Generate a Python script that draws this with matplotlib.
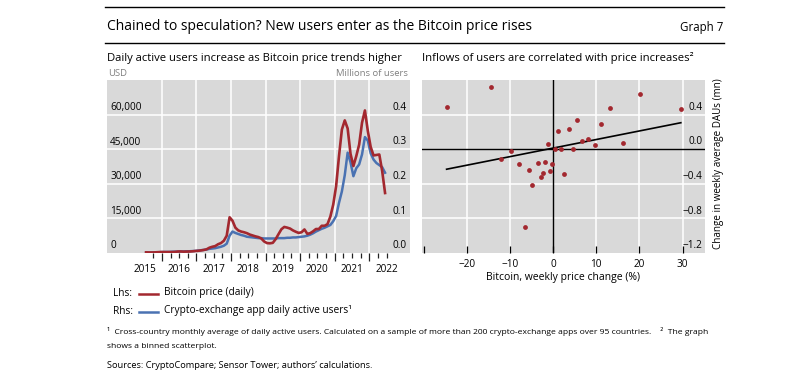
import numpy as np
import pandas as pd
import matplotlib
matplotlib.use('Agg')
import matplotlib.pyplot as plt
from matplotlib.lines import Line2D

plt.rcParams['font.family'] = ['Open Sans', 'DejaVu Sans']

# monthly data, Jul 2015 - Jun 2022
months = pd.date_range('2015-07-01', '2022-06-01', freq='MS')
btc_price = [
    280, 250, 235, 270, 350, 420,
    410, 400, 415, 430, 460, 640, 660, 580, 605, 640, 720, 850,
    950, 1100, 1300, 1600, 2300, 2700, 3000, 3800, 4300, 5300, 7500, 15500,
    14000, 11000, 9800, 9300, 9000, 8600, 8000, 7600, 7200, 6900, 6300, 5000,
    4300, 4200, 4400, 6000, 8200, 10300, 11300, 11000, 10600, 9800, 9200, 8700,
    9000, 10200, 8300, 8600, 9400, 10400, 10400, 11800, 11800, 12500, 15800, 21000,
    29000, 42000, 53500, 57500, 54000, 43000, 37700, 42000, 47000, 56500, 61800, 53000,
    46000, 42300, 42500, 42700, 35500, 26000,
]
daily_users = [
    0.001, 0.001, 0.0015, 0.002, 0.002, 0.0025,
    0.003, 0.003, 0.003, 0.0035, 0.004, 0.004, 0.0045, 0.0045, 0.005, 0.005, 0.0055, 0.006,
    0.007, 0.008, 0.009, 0.010, 0.012, 0.013, 0.014, 0.016, 0.018, 0.021, 0.027, 0.050,
    0.062, 0.058, 0.055, 0.052, 0.050, 0.047, 0.046, 0.045, 0.044, 0.043, 0.043, 0.042,
    0.042, 0.042, 0.042, 0.042, 0.043, 0.043, 0.043, 0.044, 0.044, 0.045, 0.045, 0.046,
    0.047, 0.048, 0.050, 0.053, 0.057, 0.062, 0.066, 0.070, 0.073, 0.077, 0.081, 0.092,
    0.107, 0.145, 0.178, 0.225, 0.290, 0.262, 0.222, 0.245, 0.256, 0.285, 0.335, 0.325,
    0.288, 0.270, 0.260, 0.254, 0.248, 0.232,
]

# binned scatter: weekly price change (%) vs change in weekly average DAUs (mn)
price_change = [-24.7, -14.4, -9.7, -12.1, -7.9, -5.6, -3.5, -1.8, -2.3, -2.9,
                -4.8, -6.6, -1.15, -0.7, -0.2, 0.5, 1.15, 1.85, 2.5, 3.6,
                4.5, 5.5, 6.7, 8.1, 9.8, 11.2, 13.2, 16.2, 20.1, 29.6]
dau_change = [0.49, 0.72, -0.016, -0.117, -0.176, -0.246, -0.164, -0.152, -0.27, -0.32,
              -0.414, -0.905, 0.055, -0.25, -0.176, 0.0, 0.21, 0.0, -0.285, 0.234,
              0.0, 0.34, 0.09, 0.117, 0.05, 0.297, 0.472, 0.07, 0.64, 0.465]
fit_slope = 0.0099
fit_intercept = 0.013

left_ticks = [0, 15000, 30000, 45000, 60000]
right_ticks = [0.0, 0.1, 0.2, 0.3, 0.4]
scatter_yticks = [-1.2, -0.8, -0.4, 0.0, 0.4]
scatter_xticks = [-30, -20, -10, 0, 10, 20, 30]
years = list(range(2015, 2023))

red = '#a3282f'
blue = '#4a72b2'
bg = '#d9d9d9'
W, H = 798, 392


def box(x0, y0, x1, y1):
    return [x0 / W, 1 - y1 / H, (x1 - x0) / W, (y1 - y0) / H]


def ftext(x, y, s, **kw):
    fig.text(x / W, 1 - y / H, s, **kw)


fig = plt.figure(figsize=(7.98, 3.92), dpi=100)

t = months.year + (months.month - 0.5) / 12

# left panel: blue on the back axes, red on top
axb = fig.add_axes(box(107, 80, 410, 253))
axr = axb.twinx()
axb.set_facecolor(bg)
axb.plot(t, daily_users, color=blue, lw=1.8)
axb.set_ylim(0, 0.5)
axb.set_xlim(2014.41, 2023.18)
axr.plot(t, btc_price, color=red, lw=1.9)
axr.set_ylim(0, 75000)
axr.set_zorder(axb.get_zorder() + 1)
axr.patch.set_visible(False)
for a in (axb, axr):
    for s in a.spines.values():
        s.set_visible(False)
    a.set_yticks([])
for v in right_ticks[1:]:
    axb.axhline(v, color='white', lw=1.1, zorder=0.5)
for y in years[1:]:
    axb.axvline(y, color='white', lw=1.1, zorder=0.5)
axb.set_xticks(years[1:])
axb.set_xticks([y + q / 4 for y in years for q in (1, 2, 3) if 2015.7 < y + q / 4 < 2022.6], minor=True)
axb.set_xticklabels([])
axb.tick_params(axis='x', which='major', direction='out', length=6, width=0.9, color='#222222')
axb.tick_params(axis='x', which='minor', direction='out', length=3.5, width=0.9, color='#222222')
for y in years:
    axb.text(y + 0.5, -0.065, str(y), transform=axb.get_xaxis_transform(),
             ha='center', va='top', fontsize=7.2)
for v in left_ticks:
    axr.text(0.01, v + 700, f'{v:,}', transform=axr.get_yaxis_transform(),
             ha='left', va='bottom', fontsize=7.2)
for v in right_ticks:
    axb.text(0.99, v + 0.005, f'{v:.1f}', transform=axb.get_yaxis_transform(),
             ha='right', va='bottom', fontsize=7.2)

# right panel: scatter
ax2 = fig.add_axes(box(422, 80, 705, 253))
ax2.set_facecolor(bg)
for s in ax2.spines.values():
    s.set_visible(False)
ax2.set_xlim(-30.4, 35.2)
ax2.set_ylim(-1.2, 0.8)
for v in scatter_xticks[1:]:
    if v != 0:
        ax2.axvline(v, color='white', lw=1.1, zorder=0.5)
for v in scatter_yticks[1:]:
    if v != 0:
        ax2.axhline(v, color='white', lw=1.1, zorder=0.5)
ax2.axhline(0, color='black', lw=1.0, zorder=1)
ax2.axvline(0, color='black', lw=1.0, zorder=1)
ax2.scatter(price_change, dau_change, s=12, color=red, zorder=3, linewidths=0)
xs = np.array([min(price_change), max(price_change)])
ax2.plot(xs, fit_slope * xs + fit_intercept, color='black', lw=1.2, zorder=2)
ax2.set_xticks(scatter_xticks)
ax2.set_xticklabels(['' if v == -30 else f'{v}'.replace('-', '\u2212') for v in scatter_xticks], fontsize=7.2)
ax2.tick_params(axis='x', direction='in', length=5, width=0.9, color='black', pad=4)
ax2.set_yticks([])
for v in scatter_yticks:
    ax2.text(0.99, v + 0.02, f'{v:.1f}'.replace('-', '\u2212'), transform=ax2.get_yaxis_transform(),
             ha='right', va='bottom', fontsize=7.2)
ax2.set_xlabel('Bitcoin, weekly price change (%)', fontsize=7.5, labelpad=2)
ftext(718, 164, 'Change in weekly average DAUs (mn)', rotation=90, ha='center', va='center', fontsize=7.1)

# header
fig.add_artist(Line2D([105 / W, 724 / W], [1 - 7 / H] * 2, color='black', lw=1.0))
fig.add_artist(Line2D([105 / W, 724 / W], [1 - 43 / H] * 2, color='black', lw=1.0))
ftext(107, 27, 'Chained to speculation? New users enter as the Bitcoin price rises', ha='left', va='center', fontsize=10)
ftext(723, 28, 'Graph 7', ha='right', va='center', fontsize=8.3)
ftext(107, 58, 'Daily active users increase as Bitcoin price trends higher', ha='left', va='center', fontsize=8.1)
ftext(422, 58, 'Inflows of users are correlated with price increases\u00b2', ha='left', va='center', fontsize=8.1)
ftext(108, 74, 'USD', ha='left', va='center', fontsize=6.8, color='#808080')
ftext(408, 74, 'Millions of users', ha='right', va='center', fontsize=6.8, color='#808080')

# legend
ftext(113, 293, 'Lhs:', ha='left', va='center', fontsize=7.3)
ftext(113, 311, 'Rhs:', ha='left', va='center', fontsize=7.3)
fig.add_artist(Line2D([139 / W, 158 / W], [1 - 293.5 / H] * 2, color=red, lw=1.8))
fig.add_artist(Line2D([139 / W, 158 / W], [1 - 311.5 / H] * 2, color=blue, lw=1.8))
ftext(164, 293, 'Bitcoin price (daily)', ha='left', va='center', fontsize=7.3)
ftext(164, 311, 'Crypto-exchange app daily active users\u00b9', ha='left', va='center', fontsize=7.3)

# footnotes
ftext(107, 331, '\u00b9  Cross-country monthly average of daily active users. Calculated on a sample of more than 200 '
      'crypto-exchange apps over 95 countries.    \u00b2  The graph', ha='left', va='center', fontsize=6.1)
ftext(107, 346, 'shows a binned scatterplot.', ha='left', va='center', fontsize=6.1)
ftext(107, 366, 'Sources: CryptoCompare; Sensor Tower; authors\u2019 calculations.', ha='left', va='center', fontsize=6.7)

fig.savefig('out.png', dpi=100, facecolor='white')
